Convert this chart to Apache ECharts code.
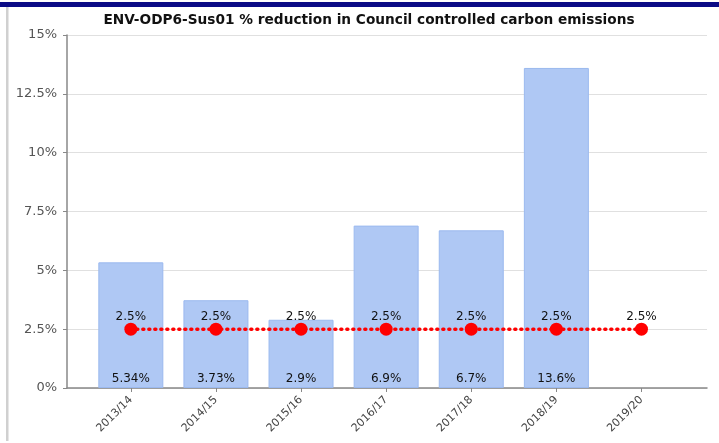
<!DOCTYPE html>
<html><head><meta charset="utf-8">
<script src="https://cdn.jsdelivr.net/npm/echarts@6/dist/echarts.min.js"></script>
<style>html,body{margin:0;padding:0;background:#fff}#c{width:719px;height:443px}</style>
</head><body><div id="c"></div>
<script>
const categories = ['2013/14','2014/15','2015/16','2016/17','2017/18','2018/19','2019/20'];
const reductionValues = [5.34, 3.73, 2.9, 6.9, 6.7, 13.6, null];
const targetValues = [2.5, 2.5, 2.5, 2.5, 2.5, 2.5, 2.5];
const yTicks = [0, 2.5, 5, 7.5, 10, 12.5, 15];

const idx = categories.map((c, i) => i);
const chart = echarts.init(document.getElementById('c'), null, {renderer: 'canvas'});
const font = '"DejaVu Sans", Verdana, sans-serif';
chart.setOption({
  animation: false,
  graphic: [
    {type: 'rect', shape: {x: 0, y: 2, width: 719, height: 5}, style: {fill: '#0b0b86'}},
    {type: 'rect', shape: {x: 6, y: 7, width: 2.5, height: 434}, style: {fill: '#d0d0d0'}}
  ],
  title: {
    text: 'ENV-ODP6-Sus01 % reduction in Council controlled carbon emissions',
    left: 364, top: 8, textAlign: 'center',
    textStyle: {fontFamily: '"DejaVu Sans", sans-serif', fontWeight: 'bold', fontSize: 13.7, color: '#111'}
  },
  grid: {left: 67, right: 12, top: 35, bottom: 55},
  xAxis: {
    type: 'value', min: -0.75, max: 6.77,
    splitLine: {show: false},
    axisLine: {show: true, onZero: false, lineStyle: {color: '#888', width: 1.5}},
    axisTick: {show: true, customValues: idx, length: 4, lineStyle: {color: '#888'}},
    axisLabel: {
      customValues: idx, rotate: 45, margin: 10, fontSize: 11, color: '#444', fontFamily: font,
      formatter: v => categories[Math.round(v)] || ''
    }
  },
  yAxis: {
    type: 'value', min: 0, max: 15, interval: 2.5,
    axisLine: {show: true, onZero: false, lineStyle: {color: '#888', width: 1.5}},
    axisTick: {show: true, length: 4, lineStyle: {color: '#888'}},
    splitLine: {lineStyle: {color: '#e0e0e0'}},
    axisLabel: {formatter: v => v + '%', fontSize: 13, color: '#555', margin: 10, fontFamily: font}
  },
  series: [
    {
      type: 'bar', barWidth: 65,
      data: reductionValues.map((v, i) => [i, v]),
      itemStyle: {color: '#afc8f4', borderColor: '#9bb9ef', borderWidth: 1},
      label: {show: true, position: 'insideBottom', distance: 3, formatter: p => p.value[1] + '%',
        fontSize: 12, color: '#111', fontFamily: font}
    },
    {
      type: 'line',
      data: targetValues.map((v, i) => [i, v]),
      symbol: 'circle', symbolSize: 13,
      itemStyle: {color: '#ff0000', borderWidth: 0},
      lineStyle: {color: '#ff0000', type: [1, 5], width: 3.5, cap: 'round'},
      label: {show: true, position: 'top', distance: 0, formatter: p => p.value[1] + '%',
        fontSize: 12, color: '#111', fontFamily: font}
    }
  ]
});
</script></body></html>
